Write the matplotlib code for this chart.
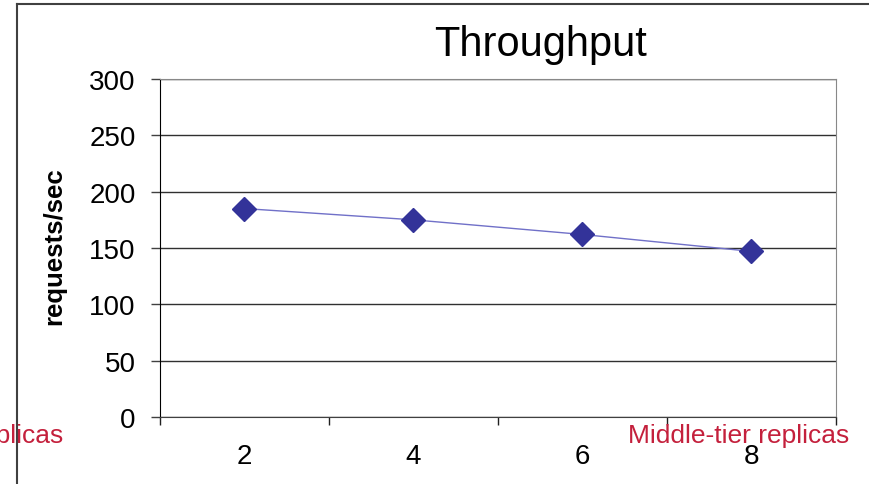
import matplotlib
matplotlib.use("Agg")
import matplotlib.pyplot as plt
from matplotlib.lines import Line2D

plt.rcParams['font.family'] = ['Liberation Sans', 'DejaVu Sans']

# data
replicas = ['2', '4', '6', '8']
throughput = [185, 175, 162, 147]
y_ticks = [0, 50, 100, 150, 200, 250, 300]

fig = plt.figure(figsize=(8.7, 4.85), dpi=100)
W, H = 870, 485
ax = fig.add_axes([160 / W, (H - 418) / H, 676 / W, 338 / H])

x = list(range(len(replicas)))
ax.plot(x, throughput, color='#7070c8', lw=1, marker='D', ms=12,
        markerfacecolor='#333399', markeredgecolor='#333399', zorder=3)

ax.set_xlim(-0.5, len(replicas) - 0.5)
ax.set_ylim(0, 300)
ax.set_yticks(y_ticks)
ax.set_yticklabels([str(v) for v in y_ticks], fontsize=20)
ax.grid(axis='y', color='#303030', lw=1)
ax.tick_params(axis='y', direction='out', length=6.5, width=1, color='#404040', pad=11)

# category boundaries as major ticks, labels on minor ticks
ax.set_xticks([i - 0.5 for i in range(len(replicas) + 1)])
ax.set_xticklabels([])
ax.set_xticks(x, minor=True)
ax.set_xticklabels(replicas, minor=True, fontsize=20)
ax.tick_params(axis='x', which='major', direction='out', length=6, width=1, color='#202020')
ax.tick_params(axis='x', which='minor', length=0, pad=19)

ax.spines['left'].set_color('black')
ax.spines['bottom'].set_color('#404040')
ax.spines['top'].set_color('#888888')
ax.spines['right'].set_color('#888888')

# y label placed in figure pixels
fig.text(54 / W, 1 - 246 / H, 'requests/sec', fontsize=18.5, fontweight='bold',
         rotation=90, ha='center', va='center')

fig.text(541 / W, 1 - 45 / H, 'Throughput', fontsize=30, ha='center', va='center')

# axis title, plus the clipped copy at the left edge as in the source image
red = '#c4203c'
fig.text(849 / W, 1 - 436 / H, 'Middle-tier replicas', fontsize=19, color=red,
         ha='right', va='center')
fig.text(63 / W, 1 - 436 / H, 'Middle-tier replicas', fontsize=19, color=red,
         ha='right', va='center')

# outer frame (top and left)
fig.add_artist(Line2D([17 / W, 1], [1 - 5 / H, 1 - 5 / H], color='#404040', lw=1.5))
fig.add_artist(Line2D([17 / W, 17 / W], [0, 1 - 5 / H], color='#404040', lw=1.5))

fig.savefig('out.png', dpi=100)
